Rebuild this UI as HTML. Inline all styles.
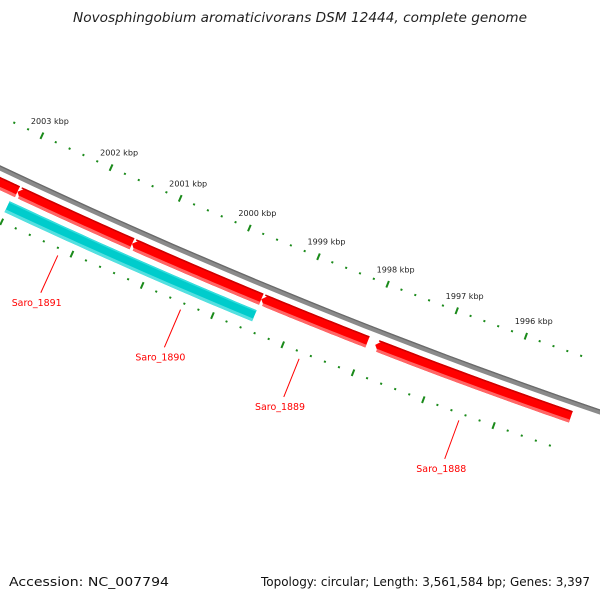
<!DOCTYPE html>
<html><head><meta charset="utf-8">
<style>
html,body{margin:0;padding:0;background:#fff;}
svg{display:block;font-family:"DejaVu Sans","Liberation Sans",sans-serif;}
</style></head>
<body>
<svg id="map" width="600" height="600" viewBox="0 0 600 600" xmlns="http://www.w3.org/2000/svg">
<rect width="600" height="600" fill="#fff"/>
<text x="300" y="22" text-anchor="middle" font-size="13" font-style="italic" fill="#222" textLength="454" lengthAdjust="spacingAndGlyphs">Novosphingobium aromaticivorans DSM 12444, complete genome</text>
<g id="ticks"></g>
<g id="backbone-g"></g>
<g id="genes"></g>
<g id="labels"></g>
<text x="9" y="586" font-size="12" fill="#111" textLength="160" lengthAdjust="spacingAndGlyphs">Accession: NC_007794</text>
<text x="590" y="586" text-anchor="end" font-size="12" fill="#111" textLength="329" lengthAdjust="spacingAndGlyphs">Topology: circular; Length: 3,561,584 bp; Genes: 3,397</text>
</svg>
<script>
// chart data
const majorTicks = [2003, 2002, 2001, 2000, 1999, 1998, 1997, 1996];
const tickLabels = ["2003 kbp","2002 kbp","2001 kbp","2000 kbp","1999 kbp","1998 kbp","1997 kbp","1996 kbp"];
const geneNames = ["", "Saro_1891", "Saro_1890", "Saro_1889", "Saro_1888", ""];
const geneStart = [2003.40, 2002.98, 2001.34, 1999.49, 1997.86, 2003.02];
const geneEnd   = [2002.98, 2001.34, 1999.49, 1997.97, 1995.06, 1999.49];
const geneStrand = [1, 1, 1, 1, 1, -1];

const NS = "http://www.w3.org/2000/svg";
const A = 168, B = 0.4727, C = -0.00011;
function by(x){ return A + B*x + C*x*x; }
function kx(k){ return 22 + (2003 - k)*69.7; }
function pt(x, n){
  const d = B + 2*C*x, L = Math.sqrt(1 + d*d);
  return [x - n*d/L, by(x) + n/L];
}
function mk(tag, attrs, parent){
  const e = document.createElementNS(NS, tag);
  for (const k in attrs) e.setAttribute(k, attrs[k]);
  parent.appendChild(e); return e;
}
function band(x1, x2, n0, n1, arrowLeft){
  const pts = [], steps = 24;
  const xa = arrowLeft ? x1 + 5 : x1;
  for (let i=0;i<=steps;i++){ const x = xa + (x2-xa)*i/steps; pts.push(pt(x,n0)); }
  for (let i=steps;i>=0;i--){ const x = xa + (x2-xa)*i/steps; pts.push(pt(x,n1)); }
  if (arrowLeft) pts.push(pt(x1,(n0+n1)/2));
  return pts.map(p=>p[0].toFixed(1)+","+p[1].toFixed(1)).join(" ");
}
const tg = document.getElementById('ticks');
// minor ticks every 0.2 kbp
for (let k = 2003.4; k >= 1994.99; k -= 0.2){
  const kr = Math.round(k*10)/10;
  const isMajor = Math.abs(kr - Math.round(kr)) < 0.01;
  if (isMajor) continue;
  [-47, 48].forEach(n=>{
    const x = kx(kr);
    const p = pt(x, n-1), q = pt(x, n+1);
    const l = mk('line', {x1:p[0],y1:p[1],x2:q[0],y2:q[1],stroke:'#1a8a1a','stroke-width':2}, tg);
    
    
  });
}
majorTicks.forEach((k,i)=>{
  const x = kx(k);
  [-47, 48].forEach(n=>{
    const p = pt(x, n-3.5), q = pt(x, n+3.5);
    const l = mk('line', {x1:p[0],y1:p[1],x2:q[0],y2:q[1],stroke:'#1a8a1a','stroke-width':2}, tg);
    
    
  });
  const o = pt(x, -47);
  const t = mk('text', {x:(o[0]-11).toFixed(1), y:(o[1]-12).toFixed(1), 'font-size':8, fill:'#222', textLength:38, lengthAdjust:'spacingAndGlyphs'}, tg);
  t.textContent = tickLabels[i];
  
  
});
// backbone
const bg = document.getElementById('backbone-g');
const bb = mk('polygon', {points: band(-20, 640, -2.5, 2.5, false), fill:'#8a8a8a'}, bg);


const bb2 = mk('polygon', {points: band(-20, 640, -2.5, -1.2, false), fill:'#6a6a6a'}, bg);


// genes
const gg = document.getElementById('genes');
const lg = document.getElementById('labels');
geneNames.forEach((name,i)=>{
  const x1 = kx(Math.max(geneStart[i], geneEnd[i])), x2 = kx(Math.min(geneStart[i], geneEnd[i]));
  const fwd = geneStrand[i] > 0;
  const n0 = fwd ? 8 : 26, n1 = n0 + 12;
  const body = fwd ? '#ff0000' : '#00cccc';
  const top = fwd ? '#cc0000' : '#33dddd';
  const bot = fwd ? '#ff6666' : '#55e0e0';
  const arrow = fwd;
  const g = mk('polygon', {points: band(x1, x2, n0, n1, arrow), fill: body}, gg);
  
  
  const s1 = mk('polygon', {points: band(x1+(arrow?2:0), x2, n0, n0+1.5, false), fill: top}, gg);
  
  
  const s2 = mk('polygon', {points: band(x1+(arrow?3:0), x2, n1-3, n1, false), fill: bot}, gg);
  
  
  if (name){
    const cx = (x1 + x2)/2;
    const p = pt(cx, 55), q = pt(cx, 96), tp = pt(cx, 106);
    const ln = mk('line', {x1:p[0],y1:p[1],x2:q[0],y2:q[1],stroke:'#ff0000','stroke-width':1}, lg);
    
    
    const t = mk('text', {x:tp[0].toFixed(1), y:(tp[1]+4).toFixed(1), 'text-anchor':'middle', 'font-size':10, fill:'#ff0000', textLength:50, lengthAdjust:'spacingAndGlyphs'}, lg);
    t.textContent = name;
    
    
  }
});
</script>
</body></html>
